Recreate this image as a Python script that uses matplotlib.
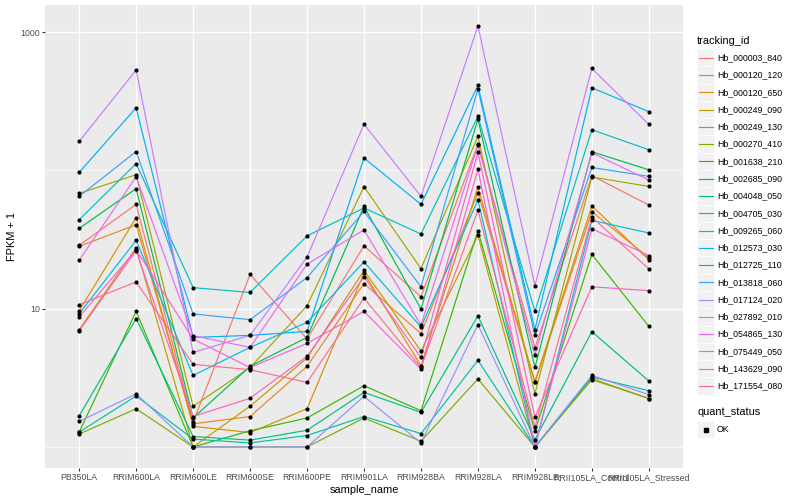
import matplotlib
matplotlib.use('Agg')
import matplotlib.pyplot as plt
from matplotlib.lines import Line2D
from matplotlib.patches import Rectangle
import numpy as np

plt.rcParams['font.family'] = ['Liberation Sans', 'DejaVu Sans']

samples = ['PB350LA', 'RRIM600LA', 'RRIM600LE', 'RRIM600SE', 'RRIM600PE',
           'RRIM901LA', 'RRIM928BA', 'RRIM928LA', 'RRIM928LE',
           'RRII105LA_Control', 'RRII105LA_Stressed']

tracking_ids = ['Hb_000003_840', 'Hb_000120_120', 'Hb_000120_650', 'Hb_000249_090',
                'Hb_000249_130', 'Hb_000270_410', 'Hb_001638_210', 'Hb_002685_090',
                'Hb_004048_050', 'Hb_004705_030', 'Hb_009265_060', 'Hb_012573_030',
                'Hb_012725_110', 'Hb_013818_060', 'Hb_017124_020', 'Hb_027892_010',
                'Hb_054865_130', 'Hb_075449_050', 'Hb_143629_090', 'Hb_171554_080']

# ggplot2 default hue palette for 20 levels
colors = ['#F8766D', '#EA8331', '#D89000', '#C09B00', '#A3A500', '#7CAE00',
          '#39B600', '#00BB4E', '#00BF7D', '#00C1A3', '#00BFC4', '#00BAE0',
          '#00B0F6', '#35A2FF', '#9590FF', '#C77CFF', '#E76BF3', '#FA62DB',
          '#FF62BC', '#FF6C91']

# FPKM + 1, one row per tracking_id, one value per sample
fpkm = [
    [28.7, 56.8, 1.51, 17.7, 6.04, 28.5, 12.2, 154, 5.2, 91.6, 56.2],
    [28.2, 40.5, 1.47, 1.66, 3.83, 15.2, 6.6, 69.0, 2.93, 50.3, 23.3],
    [9.67, 45.5, 1.41, 1.27, 1.89, 18.1, 3.87, 75.4, 2.97, 55.3, 22.6],
    [7.05, 27.6, 1.0, 1.97, 4.40, 18.9, 4.94, 33.9, 1.0, 3.13, 2.24],
    [68.2, 93.1, 1.97, 3.75, 10.5, 76.2, 19.5, 176, 2.43, 89.6, 76.6],
    [1.24, 1.89, 1.0, 1.0, 1.0, 1.62, 1.10, 3.10, 1.0, 3.07, 2.24],
    [1.28, 9.56, 1.0, 1.31, 1.62, 2.77, 1.83, 36.6, 1.30, 24.7, 7.45],
    [38.1, 73.8, 1.62, 3.83, 6.20, 54.9, 9.95, 235, 3.76, 136.5, 101],
    [1.68, 8.47, 1.19, 1.12, 1.32, 2.48, 1.78, 8.86, 1.13, 6.82, 3.00],
    [1.28, 2.34, 1.14, 1.07, 1.21, 1.66, 1.25, 4.23, 1.0, 3.21, 2.55],
    [44.0, 112, 14.2, 13.1, 33.6, 53.5, 34.7, 246, 9.56, 197, 141],
    [9.2, 31.2, 3.29, 5.25, 7.96, 21.8, 7.37, 61.1, 1.0, 43.5, 35.3],
    [96.7, 284, 6.2, 6.41, 6.85, 123, 56.8, 412, 7.05, 396, 266],
    [64.9, 137, 9.16, 8.33, 16.8, 50.5, 14.4, 388, 6.41, 105, 90.5],
    [1.53, 2.42, 1.0, 1.0, 1.0, 2.32, 1.07, 7.66, 1.0, 3.29, 2.39],
    [162, 532, 4.83, 6.41, 23.6, 216, 64.9, 1107, 14.7, 546, 215],
    [22.4, 90.0, 6.38, 5.25, 21.0, 37.1, 7.62, 152, 4.63, 134, 85.2],
    [8.71, 26.7, 6.04, 3.75, 5.61, 9.56, 3.66, 102, 1.0, 37.9, 24.2],
    [6.90, 26.3, 1.66, 2.25, 4.52, 17.0, 4.44, 135, 1.64, 14.4, 13.5],
    [10.7, 15.6, 3.96, 3.62, 2.93, 11.9, 3.76, 51.4, 1.39, 46.0, 19.4],
]

W, H = 800, 500
fig = plt.figure(figsize=(W / 100, H / 100), dpi=100)
ax = fig.add_axes([45 / W, 32 / H, 638 / W, 463 / H])
ax.set_facecolor('#EBEBEB')
for s in ax.spines.values():
    s.set_visible(False)

x = np.arange(len(samples))
for vals, col in zip(fpkm, colors):
    ax.plot(x, vals, color=col, lw=0.85, zorder=2)
for vals in fpkm:
    ax.plot(x, vals, ls='none', marker='o', ms=3.0, mfc='black', mec='black',
            mew=0, zorder=3)

ax.set_yscale('log')
lo = np.log10(min(min(v) for v in fpkm))
hi = np.log10(max(max(v) for v in fpkm))
pad = (hi - lo) * 0.05
ax.set_ylim(10 ** (lo - pad), 10 ** (hi + pad))
ax.set_xlim(-0.6, len(samples) - 0.4)

ax.set_yticks([10, 1000])
ax.set_yticklabels(['10', '1000'])
ax.set_yticks([1, 100], minor=True)
ax.yaxis.set_minor_formatter(matplotlib.ticker.NullFormatter())
ax.set_xticks(x)
ax.set_xticklabels(samples)

ax.grid(True, which='major', color='white', lw=1.0, zorder=1)
ax.grid(True, which='minor', axis='y', color='white', lw=0.5, zorder=1)
ax.set_axisbelow(True)
ax.tick_params(which='major', length=2.2, width=0.8, color='#333333',
               labelcolor='#4D4D4D', labelsize=6.3, pad=1.5)
ax.tick_params(which='minor', length=0)

ax.set_xlabel('sample_name', fontsize=7.9, labelpad=2)
ax.set_ylabel('FPKM + 1', fontsize=7.9, labelpad=2)

# legend, drawn in pixel coordinates
lg = fig.add_axes([0, 0, 1, 1], facecolor='none')
lg.set_xlim(0, W)
lg.set_ylim(H, 0)
lg.axis('off')
lg.text(697, 40.5, 'tracking_id', fontsize=7.9, va='center', ha='left')
for i, (name, col) in enumerate(zip(tracking_ids, colors)):
    yc = 57.7 + 17.28 * i
    lg.add_patch(Rectangle((697, yc - 8.64), 17.28, 17.28, facecolor='#F2F2F2',
                           edgecolor='white', lw=0.5))
    lg.add_line(Line2D([698.5, 712.5], [yc, yc], color=col, lw=0.85))
    lg.text(717, yc, name, fontsize=6.3, va='center', ha='left')

lg.text(697, 412, 'quant_status', fontsize=7.9, va='center', ha='left')
lg.add_patch(Rectangle((697, 429.5 - 8.64), 17.28, 17.28, facecolor='#F2F2F2',
                       edgecolor='white', lw=0.5))
lg.plot([705.6], [429.5], ls='none', marker='s', ms=2.6, color='black')
lg.text(717, 429.5, 'OK', fontsize=6.3, va='center', ha='left')

fig.savefig('out.png', dpi=100)
